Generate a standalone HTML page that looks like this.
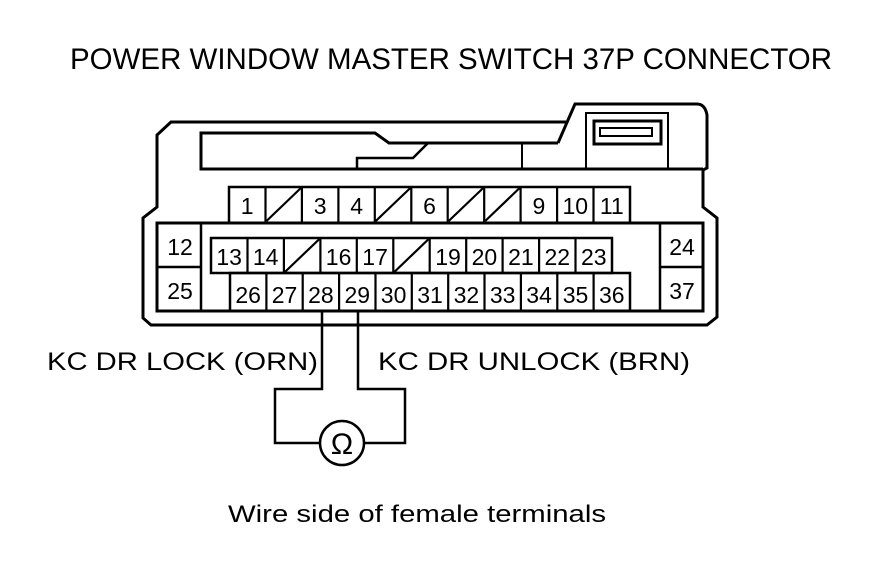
<!DOCTYPE html>
<html><head><meta charset="utf-8"><style>
html,body{margin:0;padding:0;background:#fff;}
svg{display:block;}
text{font-family:"Liberation Sans",Arial,sans-serif;fill:#000;}
</style></head><body>
<svg width="880" height="578" viewBox="0 0 880 578" xmlns="http://www.w3.org/2000/svg">
<text x="70" y="69" font-size="30" textLength="762" lengthAdjust="spacingAndGlyphs">POWER WINDOW MASTER SWITCH 37P CONNECTOR</text>
<g fill="none" stroke="#000" stroke-width="3" stroke-linejoin="miter">
<path d="M567,122 L171,122 L157,135 L157,207 L143,218 L143,318 L151,325 L707,325 L717,317 L717,218 L703,207 L703,170 L707,168 L707,115 Q705,104 697,104 L575,104 L558,143"/>
<path d="M558,143 L389,143 L375,133 L201,133 L201,169 L703,169"/>
<path d="M357,169 L357,158 L413,158 L428,143" stroke-width="2.5"/>
<path d="M522,143 L522,169" stroke-width="2"/>
<rect x="586" y="113" width="82" height="56" stroke-width="2"/>
<rect x="594" y="121" width="67" height="23" stroke-width="3"/>
<rect x="600" y="128" width="52" height="8" stroke-width="2"/>
<rect x="157" y="223" width="546" height="88" stroke-width="3"/>
<line x1="201" y1="223" x2="201" y2="311" stroke-width="2.5"/>
<line x1="157" y1="267" x2="201" y2="267" stroke-width="2.5"/>
<line x1="660" y1="223" x2="660" y2="311" stroke-width="2.5"/>
<line x1="660" y1="267" x2="703" y2="267" stroke-width="2.5"/>
<path d="M229,222 L229,187 L630,187 L630,222" stroke-width="2.5"/>
<rect x="211" y="238" width="401" height="35" stroke-width="2.5"/>
<path d="M230,311 L230,273 L630,273 L630,311" stroke-width="2.5"/>
<path d="M322,311 L322,389 L275,389 L275,443 L320,443" stroke-width="2.5"/>
<path d="M358,311 L358,389 L405,389 L405,443 L364,443" stroke-width="2.5"/>
<circle cx="342" cy="443" r="22" stroke-width="2.5"/>
</g>
<g stroke="#000" stroke-width="2.2" fill="none">
<!-- row1 dividers -->
<path d="M265.5,187V222M301.9,187V222M338.4,187V222M374.8,187V222M411.3,187V222M447.7,187V222M484.2,187V222M520.6,187V222M557.1,187V222M593.5,187V222"/>
<path d="M266.5,221L300.9,188M375.8,221L410.3,188M448.7,221L483.2,188M485.2,221L519.6,188"/>
<!-- row2 dividers -->
<path d="M247.5,238V273M283.9,238V273M320.4,238V273M356.8,238V273M393.3,238V273M429.7,238V273M466.2,238V273M502.6,238V273M539.1,238V273M575.5,238V273"/>
<path d="M284.9,272L319.4,239M394.3,272L428.7,239"/>
<!-- row3 dividers -->
<path d="M266.4,273V311M302.7,273V311M339.1,273V311M375.5,273V311M411.8,273V311M448.2,273V311M484.5,273V311M520.9,273V311M557.3,273V311M593.6,273V311"/>
</g>
<g font-size="23" text-anchor="middle">
<text x="247.2" y="214">1</text><text x="320.2" y="214">3</text><text x="356.6" y="214">4</text><text x="429.5" y="214">6</text><text x="538.9" y="214">9</text><text x="575.3" y="214">10</text><text x="611.8" y="214">11</text>
<text x="229.2" y="265">13</text><text x="265.7" y="265">14</text><text x="338.6" y="265">16</text><text x="375.1" y="265">17</text><text x="448" y="265">19</text><text x="484.4" y="265">20</text><text x="520.9" y="265">21</text><text x="557.3" y="265">22</text><text x="593.8" y="265">23</text>
<text x="248.2" y="303">26</text><text x="284.5" y="303">27</text><text x="320.9" y="303">28</text><text x="357.3" y="303">29</text><text x="393.6" y="303">30</text><text x="430" y="303">31</text><text x="466.4" y="303">32</text><text x="502.7" y="303">33</text><text x="539.1" y="303">34</text><text x="575.5" y="303">35</text><text x="611.8" y="303">36</text>
<text x="180" y="255">12</text><text x="180" y="299">25</text>
<text x="682" y="255">24</text><text x="682" y="299">37</text>
</g>
<text x="342" y="454" font-size="30" text-anchor="middle">Ω</text>
<text x="47" y="370" font-size="25" textLength="271" lengthAdjust="spacingAndGlyphs">KC DR LOCK (ORN)</text>
<text x="378" y="370" font-size="25" textLength="312" lengthAdjust="spacingAndGlyphs">KC DR UNLOCK (BRN)</text>
<text x="228" y="522" font-size="24" textLength="378" lengthAdjust="spacingAndGlyphs">Wire side of female terminals</text>
</svg>
</body></html>
